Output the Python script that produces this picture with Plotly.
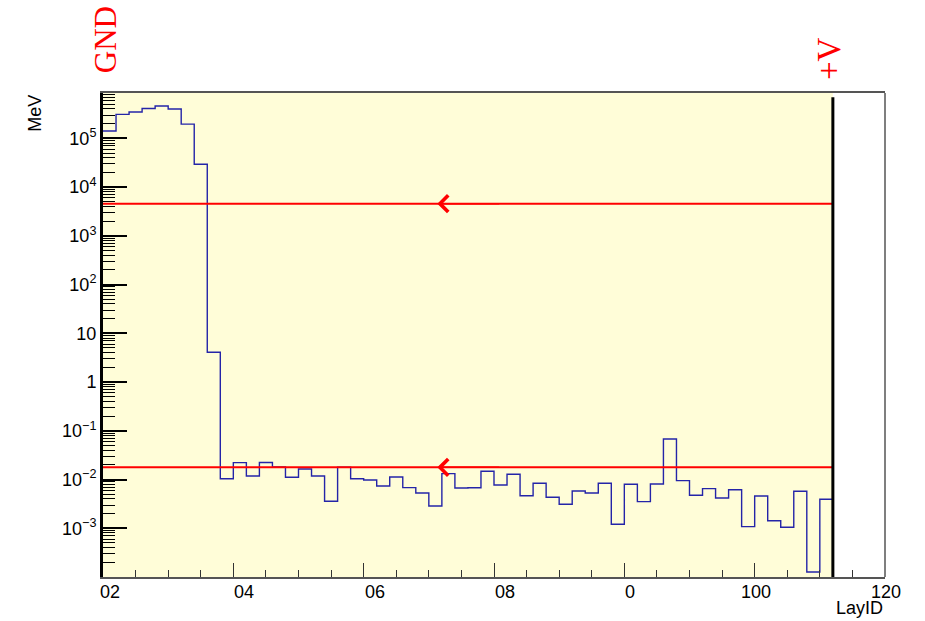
import math
import plotly.graph_objects as go

# ---------------- data ----------------
bin_width = 2
bin_start = 0
energy_mev = [1.41e5, 3.1e5, 3.46e5, 4.1e5, 4.6e5, 4.0e5, 1.96e5, 2.93e4,
              4.07, 0.0104, 0.0222, 0.0118, 0.0224, 0.0181, 0.0111, 0.0164,
              0.0118, 0.00358, 0.0178, 0.0104, 0.0098, 0.00738, 0.0113, 0.00681,
              0.0053, 0.00286, 0.0132, 0.0067, 0.0068, 0.01476, 0.00773, 0.0128,
              0.00466, 0.00838, 0.00432, 0.0031, 0.00582, 0.0053, 0.00838, 0.00121,
              0.0080, 0.00352, 0.0081, 0.0679, 0.0095, 0.00475, 0.00649, 0.00419,
              0.00618, 0.00108, 0.0046, 0.00143, 0.00105, 0.00574, 1.27e-4, 0.00394]
threshold_levels = [4560, 0.0178]
arrow_x = 51.3
x_max_region = 112
x_range = [0, 120]
y_log_range = [-4, 5.93]
xtick_vals = [0, 20, 40, 60, 80, 100, 120]
xtick_text = ["02", "04", "06", "08", "0", "100", "120"]
ytick_vals = [1e-3, 1e-2, 1e-1, 1, 10, 1e2, 1e3, 1e4, 1e5]
ytick_text = ["10<sup>\u22123</sup>", "10<sup>\u22122</sup>", "10<sup>\u22121</sup>", "1", "10",
              "10<sup>2</sup>", "10<sup>3</sup>", "10<sup>4</sup>", "10<sup>5</sup>"]
x_title = "LayID"
y_title = "MeV"
left_label = "GND"
right_label = "+V"

# ---------------- figure ----------------
n = len(energy_mev)
edges = [bin_start + i * bin_width for i in range(n + 1)]
step_x = edges + [edges[-1]]
step_y = energy_mev + [energy_mev[-1], 1e-6]

fig = go.Figure()

fig.add_shape(type="rect", xref="x", yref="paper", x0=0, x1=x_max_region, y0=0, y1=1,
              fillcolor="#FFFDD8", line=dict(width=0), layer="below")

fig.add_trace(go.Scatter(x=step_x, y=step_y, mode="lines", line_shape="hv",
                         line=dict(color="#2424a8", width=1.4), showlegend=False,
                         hoverinfo="skip"))

for lvl in threshold_levels:
    fig.add_trace(go.Scatter(x=[0, x_max_region], y=[lvl, lvl], mode="lines",
                             line=dict(color="#ff0000", width=2), showlegend=False,
                             hoverinfo="skip"))
    fig.add_annotation(x=arrow_x, y=math.log10(lvl), xref="x", yref="y", ax=66, ay=0,
                       showarrow=True, arrowhead=4, arrowsize=2.3, arrowwidth=1.4,
                       arrowcolor="#ff0000", text=" ", standoff=0)

fig.add_shape(type="line", xref="x", yref="paper", x0=x_max_region, x1=x_max_region,
              y0=0, y1=0.991, line=dict(color="black", width=3))
fig.add_shape(type="line", xref="paper", yref="paper", x0=1, x1=1, y0=0, y1=1,
              line=dict(color="#555555", width=1.5))

label_font = dict(family="Liberation Sans, Arial, sans-serif", size=18, color="black")
for v, t in zip(xtick_vals, xtick_text):
    if len(t) <= 2:
        xa = "left"
        sh = -5 if v == 0 else -1
    else:
        xa = "center"
        sh = 1
    fig.add_annotation(x=v, y=0, xref="x", yref="paper", text=t, showarrow=False,
                       xanchor=xa, yanchor="top", xshift=sh, yshift=-3, font=label_font)

fig.add_annotation(x=1, y=-0.065, xref="paper", yref="paper", text=x_title,
                   showarrow=False, xanchor="right", yanchor="middle", font=label_font)
fig.add_annotation(x=-0.087, y=0.959, xref="paper", yref="paper", text=y_title,
                   showarrow=False, xanchor="center", yanchor="middle", textangle=-90,
                   font=label_font)

serif_font = dict(family="Liberation Serif, Times New Roman, serif", size=31, color="#ff0000")
fig.add_annotation(x=0, y=1.109, xref="x", yref="paper", text=left_label, showarrow=False,
                   xanchor="center", yanchor="middle", textangle=-90, xshift=2, font=serif_font)
fig.add_annotation(x=x_max_region, y=1.072, xref="x", yref="paper", text=right_label,
                   showarrow=False, xanchor="center", yanchor="middle", textangle=-90,
                   xshift=-4, font=dict(family=serif_font["family"], size=33, color="#ff0000"))

minor_y = [m * 10 ** k for k in range(-4, 6) for m in range(2, 10)]

fig.update_layout(
    width=925, height=621,
    margin=dict(l=103, r=40, t=93, b=44),
    paper_bgcolor="white", plot_bgcolor="white",
    font=label_font,
    xaxis=dict(range=x_range, tickmode="array", tickvals=xtick_vals, showticklabels=False,
               ticks="inside", ticklen=14, tickwidth=1.2, tickcolor="#333333",
               minor=dict(tickmode="linear", tick0=0, dtick=5, ticks="inside", ticklen=7,
                          tickwidth=1.2, tickcolor="#333333"),
               showgrid=False, zeroline=False, showline=True, linecolor="#555555",
               linewidth=1.5, mirror=True),
    yaxis=dict(type="log", range=y_log_range, tickmode="array", tickvals=ytick_vals,
               ticktext=ytick_text, ticks="inside", ticklen=24, tickwidth=1.5,
               tickcolor="black",
               minor=dict(tickvals=minor_y, ticks="inside", ticklen=12, tickwidth=1.2,
                          tickcolor="black"),
               showgrid=False, zeroline=False, showline=True, linecolor="black",
               linewidth=3, tickfont=label_font),
)

fig.write_html("out.html")
